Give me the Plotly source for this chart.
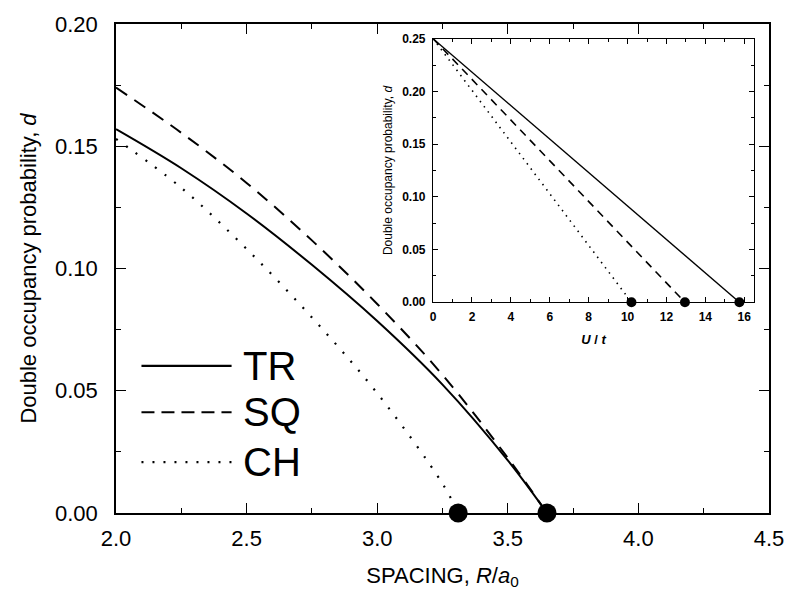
import plotly.graph_objects as go

# ---- main panel data ----
tr_x = [2.0, 2.25, 2.5, 2.75, 3.0, 3.25, 3.5, 3.65]
tr_y = [0.157, 0.141, 0.1225, 0.1015, 0.0785, 0.0525, 0.0215, 0.0]
sq_x = [2.0, 2.25, 2.5, 2.75, 3.0, 3.25, 3.5, 3.65]
sq_y = [0.174, 0.1555, 0.135, 0.1115, 0.0855, 0.0565, 0.0225, 0.0]
ch_x = [2.0, 2.25, 2.5, 2.75, 3.0, 3.25, 3.31]
ch_y = [0.153, 0.133, 0.108, 0.080, 0.049, 0.012, 0.0]
crit_x = [3.31, 3.65]
crit_y = [0.0, 0.0]

# ---- inset data ----
in_tr_x = [0.0, 15.75]
in_tr_y = [0.25, 0.0]
in_sq_x = [0.0, 12.95]
in_sq_y = [0.25, 0.0]
in_ch_x = [0.0, 10.2]
in_ch_y = [0.25, 0.0]
in_crit_x = [10.2, 12.95, 15.75]
in_crit_y = [0.0, 0.0, 0.0]

legend_names = ["TR", "SQ", "CH"]

FONT = "Arial, Liberation Sans, sans-serif"
BLK = "#000000"

fig = go.Figure()

fig.add_trace(go.Scatter(x=tr_x, y=tr_y, mode="lines",
                         line=dict(color=BLK, width=2, dash="solid", shape="spline", smoothing=1.0),
                         xaxis="x", yaxis="y", showlegend=False))
fig.add_trace(go.Scatter(x=sq_x, y=sq_y, mode="lines",
                         line=dict(color=BLK, width=2, dash="13px,9px", shape="spline", smoothing=1.0),
                         xaxis="x", yaxis="y", showlegend=False))
fig.add_trace(go.Scatter(x=ch_x, y=ch_y, mode="lines",
                         line=dict(color=BLK, width=2.2, dash="2px,10px", shape="spline", smoothing=1.0),
                         xaxis="x", yaxis="y", showlegend=False))
fig.add_trace(go.Scatter(x=crit_x, y=crit_y, mode="markers", marker=dict(color=BLK, size=19),
                         cliponaxis=False, xaxis="x", yaxis="y", showlegend=False))

fig.add_trace(go.Scatter(x=in_tr_x, y=in_tr_y, mode="lines", line=dict(color=BLK, width=1.4, dash="solid"),
                         xaxis="x2", yaxis="y2", showlegend=False))
fig.add_trace(go.Scatter(x=in_sq_x, y=in_sq_y, mode="lines", line=dict(color=BLK, width=1.6, dash="8px,6px"),
                         xaxis="x2", yaxis="y2", showlegend=False))
fig.add_trace(go.Scatter(x=in_ch_x, y=in_ch_y, mode="lines", line=dict(color=BLK, width=1.6, dash="1.5px,5px"),
                         xaxis="x2", yaxis="y2", showlegend=False))
fig.add_trace(go.Scatter(x=in_crit_x, y=in_crit_y, mode="markers", marker=dict(color=BLK, size=10),
                         cliponaxis=False, xaxis="x2", yaxis="y2", showlegend=False))

# manual legend (paper coords of main plot area)
leg_y = [0.301, 0.206, 0.104]
leg_dash = ["solid", "13px,7px", "2px,9px"]
for name, yy, dsh in zip(legend_names, leg_y, leg_dash):
    fig.add_shape(type="line", xref="paper", yref="paper", x0=0.039, x1=0.177, y0=yy, y1=yy,
                  line=dict(color=BLK, width=2.2, dash=dsh))
    fig.add_annotation(xref="paper", yref="paper", x=0.192, y=yy, text=name, showarrow=False,
                       xanchor="left", yanchor="middle", font=dict(family=FONT, size=40, color=BLK))

main_ax = dict(showline=True, linecolor=BLK, linewidth=1.5, mirror="ticks", ticks="inside",
               tickcolor=BLK, tickwidth=1.3, ticklen=10, showgrid=False, zeroline=False,
               tickfont=dict(family=FONT, size=22, color=BLK))
inset_ax = dict(showline=True, linecolor=BLK, linewidth=1.3, mirror="ticks", ticks="inside",
                tickcolor=BLK, tickwidth=1, ticklen=5, showgrid=False, zeroline=False,
                tickfont=dict(family=FONT, size=12, color=BLK, weight="bold"))

fig.update_layout(
    width=796, height=606,
    margin=dict(l=116, r=19, t=12, b=93),
    paper_bgcolor="white", plot_bgcolor="white",
    font=dict(family=FONT, color=BLK),
    xaxis=dict(**main_ax, domain=[0, 1], range=[2.0, 4.5], dtick=0.5, tickformat=".1f",
               minor=dict(ticks="inside", dtick=0.25, ticklen=5, tickcolor=BLK, tickwidth=1.2),
               ticklabelstandoff=5,
               title=dict(text="SPACING, <i>R</i>/<i>a</i><sub>0</sub>", font=dict(family=FONT, size=22, color=BLK), standoff=17)),
    yaxis=dict(**main_ax, domain=[0, 1], range=[0, 0.20], dtick=0.05, tickformat=".2f",
               minor=dict(ticks="inside", dtick=0.025, ticklen=5, tickcolor=BLK, tickwidth=1.2),
               ticklabelstandoff=12,
               title=dict(text="Double occupancy probability, <i>d</i>", font=dict(family=FONT, size=22, color=BLK), standoff=12)),
    xaxis2=dict(**inset_ax, domain=[0.4856, 0.977], range=[0, 16.5], dtick=2, anchor="y2",
                minor=dict(ticks="inside", dtick=1, ticklen=3, tickcolor=BLK, tickwidth=1),
                ticklabelstandoff=3,
                title=dict(text="<b><i>U</i> / <i>t</i></b>", font=dict(family=FONT, size=13, color=BLK), standoff=12)),
    yaxis2=dict(**inset_ax, domain=[0.431, 0.970], range=[0, 0.25], dtick=0.05, tickformat=".2f", anchor="x2",
                minor=dict(ticks="inside", dtick=0.025, ticklen=3, tickcolor=BLK, tickwidth=1),
                ticklabelstandoff=4,
                title=dict(text="Double occupancy probability, <i>d</i>", font=dict(family=FONT, size=12, color=BLK), standoff=6)),
)

fig.write_html("out.html")
